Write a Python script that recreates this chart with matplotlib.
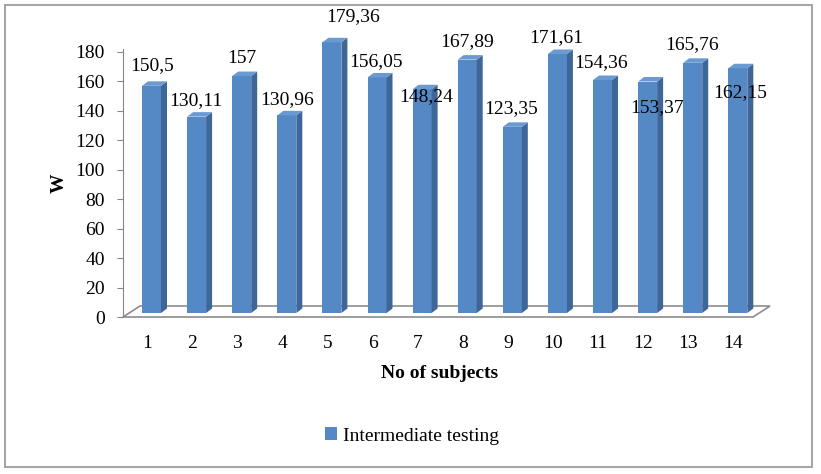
import numpy as np
import matplotlib
matplotlib.use("Agg")
import matplotlib.pyplot as plt
from matplotlib.patches import Polygon, Rectangle, Patch

# data
subjects = list(range(1, 15))
watts = [150.5, 130.11, 157, 130.96, 179.36, 156.05, 148.24,
         167.89, 123.35, 171.61, 154.36, 153.37, 165.76, 162.15]
labels = [f"{v:g}".replace(".", ",") for v in watts]
labels[5] = "156,05"
series_name = "Intermediate testing"

# label nudges in pixels (dx, dy) relative to bar top
label_nudge = [(0.5, 30), (-0.6, 25), (0, 27), (0, 25), (21, 36), (-1, 26), (4, 2),
               (0, 28), (-1, 27), (-1, 27), (-1.5, 27), (9, -16), (-1, 28), (2, -14)]

W, H = 821, 474
plt.rcParams['font.family'] = ['Liberation Serif', 'DejaVu Serif']
fs = 14

fig = plt.figure(figsize=(W / 100, H / 100), dpi=100)
# axes placed in pixel terms
left_px, right_px, bot_px, top_px = 123, 780, 317, 49
ax = fig.add_axes([left_px / W, 1 - bot_px / H,
                   (right_px - left_px) / W, (bot_px - top_px) / H])
ax.set_xlim(0.468, 15.035)
ax.set_ylim(0, 182)

# pseudo-3D geometry
px_x = 45.1      # px per category
px_y = (bot_px - top_px) / 182
floor_dx, floor_dy = 17 / px_x, 11 / px_y
bar_shift = 4.5 / px_x
bar_base = 4 / px_y
bar_w = 19 / px_x
side_dx, side_dy = 6 / px_x, 4.5 / px_y
depth_scale = 1.025

front_col = "#5589C6"
side_col = "#3E6699"
top_col = "#6A9AD2"

# floor
x0 = 0.468
x1 = 1 + (753 - 147) / px_x
floor = Polygon([(x0, 0), (x1, 0), (x1 + floor_dx, floor_dy), (x0 + floor_dx, floor_dy)],
                closed=True, facecolor="white", edgecolor="#8c8c8c", lw=1.2, zorder=1,
                clip_on=False)
ax.add_patch(floor)

xs = np.array(subjects) + bar_shift
heights = np.array(watts) * depth_scale
bars = ax.bar(xs, heights, width=bar_w, bottom=bar_base, color=front_col,
              edgecolor="none", zorder=3, clip_on=False)

for b in bars:
    xl = b.get_x()
    xr = xl + b.get_width()
    yb = b.get_y()
    yt = yb + b.get_height()
    side = Polygon([(xr, yb), (xr + side_dx, yb + side_dy), (xr + side_dx, yt + side_dy), (xr, yt)],
                   closed=True, facecolor=side_col, edgecolor="none", zorder=3, clip_on=False)
    top = Polygon([(xl, yt), (xr, yt), (xr + side_dx, yt + side_dy), (xl + side_dx, yt + side_dy)],
                  closed=True, facecolor=top_col, edgecolor="none", zorder=3, clip_on=False)
    ax.add_patch(side)
    ax.add_patch(top)

for s, v, lab, (dx, dy) in zip(subjects, watts, labels, label_nudge):
    ax.annotate(lab, xy=(s + bar_shift, v), xytext=(dx, dy), textcoords="offset pixels",
                ha="center", va="center", fontsize=fs, zorder=5, annotation_clip=False)

# axes styling
for sp in ["top", "right", "bottom"]:
    ax.spines[sp].set_visible(False)
ax.spines["left"].set_color("#868686")
ax.spines["left"].set_bounds(0, 182)
ax.set_yticks(np.arange(0, 181, 20))
ax.tick_params(axis="y", direction="out", length=4, color="#868686", labelsize=fs, pad=9)
ax.set_xticks(subjects)
ax.tick_params(axis="x", length=0, labelsize=fs, pad=13)
ax.patch.set_alpha(0)

fig.text(59 / W, 1 - 183 / H, "W", rotation=90, ha="center", va="center",
         fontsize=fs, fontweight="bold")
fig.text(440 / W, 1 - 373 / H, "No of subjects", ha="center", va="center",
         fontsize=fs, fontweight="bold")

fig.legend(handles=[Patch(facecolor=front_col, edgecolor="none", label=series_name)],
           loc="center", bbox_to_anchor=(412 / W, 1 - 436 / H), frameon=False,
           fontsize=fs, handlelength=0.6, handleheight=0.6, handletextpad=0.3)

fig.patches.append(Rectangle((5 / W, 1 - 467 / H), 807 / W, 462 / H, transform=fig.transFigure,
                             fill=False, edgecolor="#a6a6a6", lw=1.5))

fig.savefig("out.png", dpi=100)
